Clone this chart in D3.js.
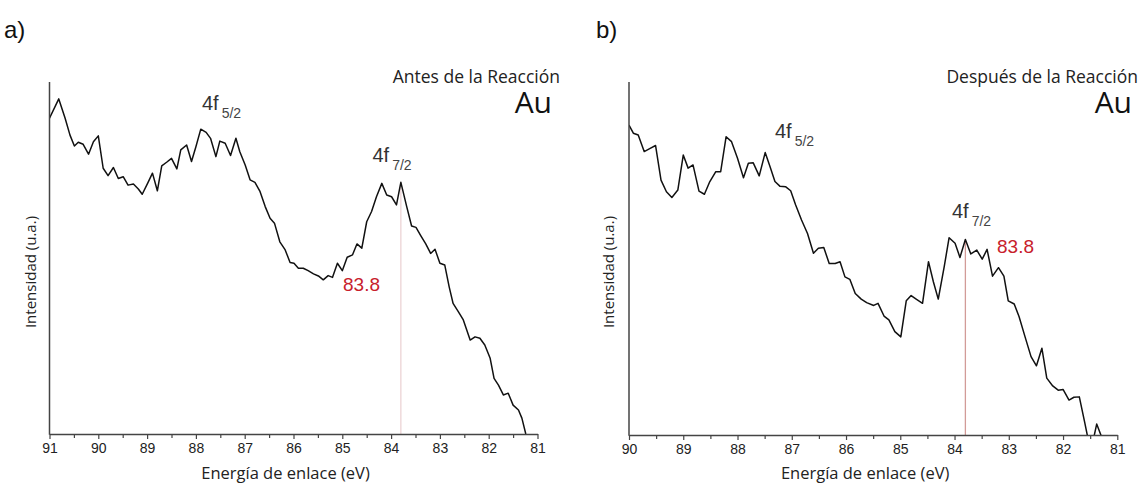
<!DOCTYPE html>
<html>
<head>
<meta charset="utf-8">
<script src="https://cdn.jsdelivr.net/npm/d3@7"></script>
<style>
  html, body { margin: 0; padding: 0; background: #fff; }
  svg { display: block; }
</style>
</head>
<body>
<svg id="chart" width="1139" height="485"></svg>
<script>
// Au 4f XPS spectra, before and after the reaction (intensity in arbitrary units)
const energyA = [91.00, 90.81, 90.68, 90.58, 90.49, 90.41, 90.31, 90.20, 90.10, 90.00,
  89.90, 89.80, 89.69, 89.59, 89.49, 89.39, 89.28, 89.18, 89.10, 88.99,
  88.89, 88.79, 88.70, 88.60, 88.50, 88.39, 88.31, 88.19, 88.09, 88.00,
  87.90, 87.79, 87.70, 87.59, 87.51, 87.40, 87.29, 87.18, 87.10, 86.99,
  86.89, 86.79, 86.69, 86.58, 86.48, 86.39, 86.28, 86.17, 86.07, 85.99,
  85.90, 85.80, 85.70, 85.59, 85.49, 85.39, 85.29, 85.20, 85.10, 85.00,
  84.90, 84.79, 84.70, 84.60, 84.50, 84.40, 84.30, 84.19, 84.09, 83.99,
  83.89, 83.80, 83.68, 83.58, 83.49, 83.39, 83.29, 83.19, 83.10, 83.00,
  82.90, 82.81, 82.73, 82.62, 82.52, 82.38, 82.28, 82.18, 82.08, 81.97,
  81.89, 81.80, 81.70, 81.60, 81.50, 81.39, 81.32, 81.24];
const intensityA = [89.7, 95.2, 89.7, 84.9, 81.8, 82.9, 82.3, 79.5, 83.0, 84.7,
  75.5, 73.4, 75.7, 72.6, 73.1, 70.7, 71.0, 69.6, 68.1, 71.2,
  74.1, 69.1, 76.2, 77.2, 78.3, 75.3, 80.7, 82.1, 77.4, 81.6,
  86.6, 85.7, 84.0, 78.8, 83.2, 82.6, 79.1, 84.0, 80.2, 76.4,
  72.2, 71.5, 69.0, 64.6, 61.3, 59.9, 54.6, 52.3, 48.7, 48.5,
  47.1, 47.1, 46.4, 45.5, 44.9, 43.8, 45.0, 44.5, 48.5, 46.4,
  50.2, 50.9, 54.0, 52.8, 60.3, 63.2, 67.4, 71.2, 67.9, 67.4,
  65.1, 71.5, 64.6, 59.1, 58.7, 56.3, 54.0, 51.3, 52.5, 48.5,
  48.0, 41.8, 37.1, 34.7, 32.4, 26.7, 27.6, 27.2, 25.3, 21.5,
  15.8, 13.9, 11.1, 11.6, 8.2, 6.8, 4.5, 0.0];

const energyB = [90.00, 89.92, 89.83, 89.72, 89.61, 89.51, 89.41, 89.31, 89.21, 89.10,
  89.00, 88.91, 88.82, 88.71, 88.61, 88.51, 88.40, 88.31, 88.21, 88.11,
  88.00, 87.89, 87.80, 87.71, 87.60, 87.49, 87.40, 87.31, 87.22, 87.11,
  87.02, 86.93, 86.82, 86.71, 86.60, 86.51, 86.41, 86.31, 86.20, 86.11,
  86.02, 85.93, 85.83, 85.72, 85.62, 85.49, 85.41, 85.30, 85.21, 85.10,
  84.99, 84.89, 84.80, 84.70, 84.59, 84.48, 84.39, 84.30, 84.19, 84.10,
  83.99, 83.90, 83.80, 83.70, 83.59, 83.49, 83.40, 83.30, 83.19, 83.09,
  83.01, 82.90, 82.81, 82.70, 82.59, 82.49, 82.39, 82.30, 82.19, 82.09,
  82.00, 81.89, 81.80, 81.70, 81.60, 81.49, 81.38, 81.29];
const intensityB = [87.8, 85.5, 85.0, 80.3, 81.2, 82.0, 72.2, 68.9, 67.3, 69.4,
  79.3, 75.6, 76.5, 69.1, 68.2, 71.8, 74.6, 74.6, 84.5, 83.1,
  78.4, 72.9, 77.0, 77.1, 73.4, 80.0, 76.0, 71.8, 70.5, 70.3,
  69.2, 65.2, 60.9, 57.1, 51.5, 52.9, 53.1, 48.6, 48.6, 49.1,
  44.8, 44.1, 40.1, 38.5, 37.5, 36.7, 37.3, 33.7, 32.6, 29.3,
  27.8, 38.0, 39.5, 38.4, 37.3, 49.1, 43.4, 38.5, 47.7, 55.9,
  54.3, 50.3, 55.4, 51.3, 52.4, 49.8, 52.6, 45.0, 47.4, 45.0,
  38.0, 37.1, 33.5, 27.8, 22.2, 19.6, 24.6, 16.1, 13.9, 12.7,
  12.9, 9.9, 10.7, 10.8, 3.5, -4.8, 3.1, -0.5];

const ticksA = [91, 90, 89, 88, 87, 86, 85, 84, 83, 82, 81];
const ticksB = [90, 89, 88, 87, 86, 85, 84, 83, 82, 81];
const peakEnergy = 83.8;

const xTitle = "Energía de enlace (eV)";
const yTitle = "Intensidad (u.a.)";
const element = "Au";

const panels = [
  {
    id: "a", tag: "a)", tagX: 4,
    condition: "Antes de la Reacción",
    energy: energyA, intensity: intensityA, ticks: ticksA,
    x0: 49.5, x1: 537.5, top: 82, base: 434,
    titleRight: 560, auRight: 552,
    lineColor: "#ecd3d5",
    f52: { x: 202, y: 110 }, f72: { x: 372.5, y: 162 },
    valueLabel: { x: 343, y: 291 },
    yTitleX: 36
  },
  {
    id: "b", tag: "b)", tagX: 596,
    condition: "Después de la Reacción",
    energy: energyB, intensity: intensityB, ticks: ticksB,
    x0: 629, x1: 1117.3, top: 82, base: 435,
    titleRight: 1138, auRight: 1132,
    lineColor: "#d29b98",
    f52: { x: 775, y: 138 }, f72: { x: 952, y: 218 },
    valueLabel: { x: 997, y: 253 },
    yTitleX: 614
  }
];

const svg = d3.select("#chart");
const sans = "'Open Sans', 'Noto Sans', sans-serif";
const arial = "'Liberation Sans', Arial, sans-serif";

panels.forEach(p => {
  const g = svg.append("g").attr("class", "panel-" + p.id);
  const domain = [p.ticks[0], p.ticks[p.ticks.length - 1]];
  const x = d3.scaleLinear().domain(domain).range([p.x0, p.x1]);
  const y = d3.scaleLinear().domain([0, 100]).range([p.base, p.top]);

  // panel tag
  g.append("text").attr("x", p.tagX).attr("y", 38)
    .attr("font-family", arial).attr("font-size", 24).attr("fill", "#111")
    .text(p.tag);

  // clip so the trace stays inside the frame
  g.append("clipPath").attr("id", "clip-" + p.id)
    .append("rect").attr("x", p.x0).attr("y", p.top - 30)
    .attr("width", p.x1 - p.x0).attr("height", p.base - p.top + 30);

  // marker line at the 4f7/2 peak
  const peakIdx = p.energy.indexOf(peakEnergy);
  g.append("line")
    .attr("x1", x(peakEnergy)).attr("x2", x(peakEnergy))
    .attr("y1", y(p.intensity[peakIdx])).attr("y2", p.base)
    .attr("stroke", p.lineColor).attr("stroke-width", 1.3);

  // spectrum
  const pts = p.energy.map((e, i) => [e, p.intensity[i]]);
  g.append("path").datum(pts)
    .attr("clip-path", `url(#clip-${p.id})`)
    .attr("fill", "none").attr("stroke", "#111").attr("stroke-width", 1.5)
    .attr("stroke-linejoin", "round")
    .attr("d", d3.line().x(d => x(d[0])).y(d => y(d[1])));

  // x axis with major and minor ticks
  const minor = d3.range(domain[1] + 0.5, domain[0], 1);
  const axMinor = d3.axisBottom(x).tickValues(minor).tickSize(4).tickFormat("");
  g.append("g").attr("transform", `translate(0,${p.base})`).call(axMinor)
    .call(s => s.select(".domain").remove())
    .selectAll("line").attr("stroke", "#444").attr("stroke-width", 1.2);

  const ax = d3.axisBottom(x).tickValues(p.ticks).tickSize(5).tickSizeOuter(0).tickPadding(4)
    .tickFormat(d3.format("d"));
  const axG = g.append("g").attr("transform", `translate(0,${p.base})`).call(ax);
  axG.select(".domain").attr("stroke", "#444").attr("stroke-width", 1.5);
  axG.selectAll(".tick line").attr("stroke", "#444").attr("stroke-width", 1.2);
  axG.selectAll(".tick text").attr("font-family", arial).attr("font-size", 14)
    .attr("fill", "#222");

  // y axis line (no ticks)
  g.append("line").attr("x1", p.x0).attr("x2", p.x0)
    .attr("y1", p.top).attr("y2", p.base + 0.75)
    .attr("stroke", "#444").attr("stroke-width", 1.5);

  // axis titles
  g.append("text")
    .attr("x", (p.x0 + p.x1) / 2 - 8).attr("y", 479)
    .attr("text-anchor", "middle").attr("font-family", sans).attr("font-size", 16.5)
    .attr("fill", "#222").text(xTitle);
  g.append("text")
    .attr("transform", `translate(${p.yTitleX},272) rotate(-90)`)
    .attr("text-anchor", "middle").attr("font-family", sans).attr("font-size", 15)
    .attr("fill", "#222").text(yTitle);

  // sample condition and element
  g.append("text").attr("x", p.titleRight).attr("y", 83)
    .attr("text-anchor", "end").attr("font-family", sans).attr("font-size", 17.5)
    .attr("fill", "#222").text(p.condition);
  g.append("text").attr("x", p.auRight).attr("y", 113)
    .attr("text-anchor", "end").attr("font-family", sans).attr("font-size", 30)
    .attr("fill", "#111").text(element);

  // spin-orbit component labels
  const orbital = (pos, sub) => {
    const t = g.append("text").attr("x", pos.x).attr("y", pos.y)
      .attr("font-family", arial).attr("font-size", 20).attr("fill", "#333");
    t.append("tspan").text("4f");
    t.append("tspan").attr("dx", 3).attr("dy", 8).attr("font-size", 14)
      .attr("fill", "#444").text(sub);
  };
  orbital(p.f52, "5/2");
  orbital(p.f72, "7/2");

  // peak position label
  g.append("text").attr("x", p.valueLabel.x).attr("y", p.valueLabel.y)
    .attr("font-family", arial).attr("font-size", 19).attr("fill", "#c8202c")
    .text(d3.format(".1f")(peakEnergy));
});
</script>
</body>
</html>
